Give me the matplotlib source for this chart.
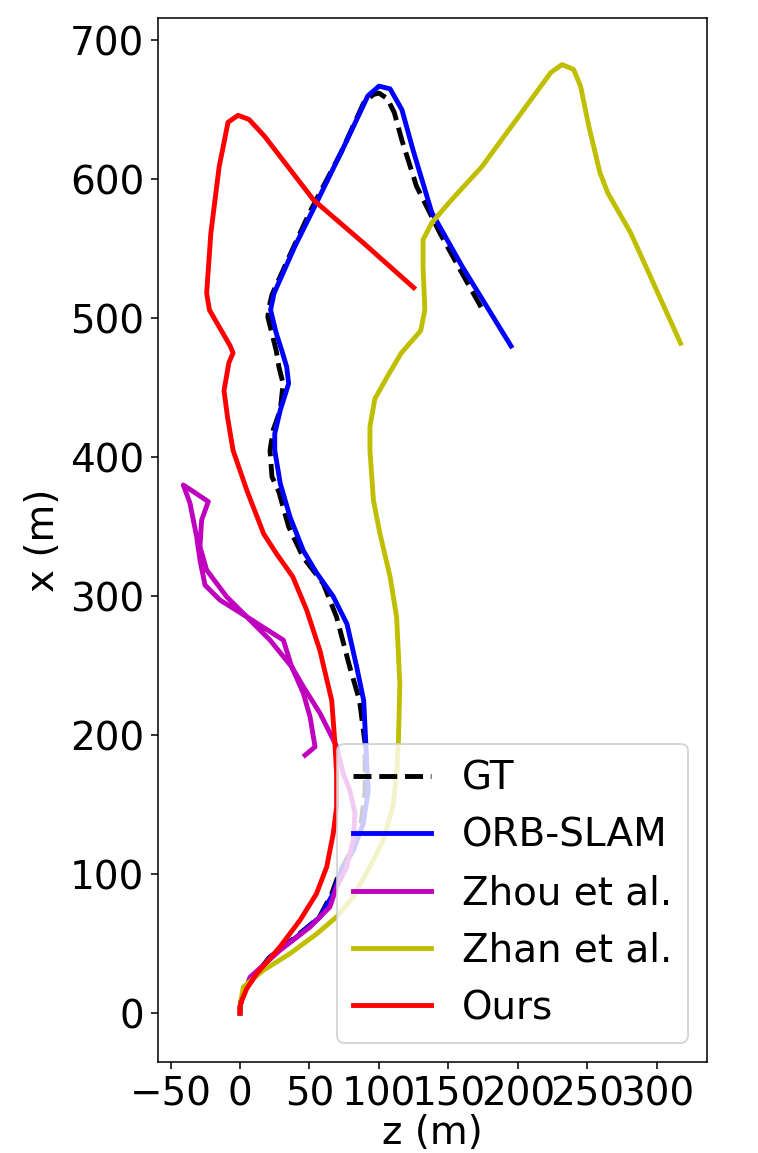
import matplotlib
matplotlib.use("Agg")
import matplotlib.pyplot as plt

# Trajektorije (z, x) u metrima, ocitane sa slike
gt_z = [0, 0.5, 3, 10, 21, 40, 57, 66, 71, 80, 87, 90, 90, 86, 79, 69.5, 60, 45.5, 35, 28,
        23, 21.6, 24, 29, 31, 28, 26, 20, 21.6, 23, 36.6, 50, 72.6, 89, 96, 100, 106, 111,
        116.5, 127, 144, 160, 174, 176]
gt_x = [0, 8, 16, 26, 40, 55, 69, 86, 100, 117, 136, 160, 194, 225, 249, 285, 309, 328, 350, 375,
        386, 405, 420, 434, 453, 465, 477, 501, 511, 517, 547, 576, 619, 655, 661, 662, 658, 648,
        628, 595, 561, 532, 507, 505]

orb_z = [0, 0.5, 3, 10, 21.6, 40.8, 57.6, 67, 72, 81.5, 88.7, 92.3, 91, 89, 84, 77, 67, 55, 45.5, 36,
         29, 25, 25, 29, 35, 33.6, 30, 26, 22, 24.5, 39.6, 56, 75, 92, 100, 108, 116.5, 124.5, 138, 160,
         195]
orb_x = [0, 8, 16, 26, 40.5, 55, 69.4, 86, 100.5, 117.3, 136.5, 160.5, 184.5, 225, 249, 280, 300, 317, 333, 357,
         381, 405, 417, 434, 453, 465, 477, 489.5, 506, 518, 552, 585, 624, 660, 667, 665, 650, 621, 576, 537,
         480]

zhou_z = [0, 0, 1.5, 7.2, 28.8, 50.4, 64.7, 69.5, 76.7, 81.5, 82.7, 79, 74.3, 69.5,
          57.6, 45.6, 37.2, 21.6, 4.8, -14.4, -25.2, -28.8, -31.2, -36, -40.8,
          -22.8, -27.6, -28.8, -24, -9.6, 4.8, 31.2, 37.2, 45.6, 50.4, 54, 46.8]
zhou_x = [0, 5, 10, 26, 45.4, 62.1, 76.6, 91, 105, 124.6, 143.8, 160.5, 172.5, 192,
          215.8, 234.9, 249.3, 268.5, 285.3, 297.3, 308.1, 326.1, 342.9, 367, 380.1,
          368.1, 354.9, 335.7, 318.9, 299.7, 285.3, 268.5, 249.3, 230.2, 213.3, 191.7, 185.7]

zhan_z = [0, 0, 2.4, 16.8, 36, 55, 69.5, 81.5, 93.5, 103, 110, 112.7, 114, 115, 112.7, 108, 100.7, 96,
          93.5, 93.5, 97, 106, 116, 130, 133, 131.7, 131.7, 138, 152, 174, 223.6, 231.7, 240, 245, 251,
          259, 264.7, 281, 317]
zhan_x = [0, 5, 19, 31, 43, 57, 69.4, 83.8, 105.4, 124.6, 148.6, 172.6, 196.5, 237, 285, 314, 345, 369,
          405, 422, 442, 458, 475, 491, 506, 537, 556.5, 568.7, 585, 609, 676.7, 682.5, 679, 667, 638,
          604.6, 590, 561.6, 482]

ours_z = [0, 0, 1.5, 5, 12, 28.8, 43.2, 55, 62.4, 67.1, 69.5, 69.5, 68.3, 66, 57.5, 48, 38, 26, 17, 5,
          -5, -9, -11.5, -8, -5, -7, -22, -24, -21, -15, -8.6, -1.4, 6.5, 17.6, 53, 89, 125]
ours_x = [0, 5, 10, 18, 28.5, 47.9, 67, 86, 105.4, 129.4, 148.6, 172.6, 194, 225, 261, 290, 314, 331, 345, 376,
          405, 429, 448, 468, 475, 480, 506, 518, 561, 609, 641, 646, 643, 631, 585, 554, 522]

plt.rcParams["font.size"] = 20
plt.rcParams["lines.solid_joinstyle"] = "round"

fig = plt.figure(figsize=(758 / 140, 1153 / 140), dpi=140)
ax = fig.add_axes([158 / 758, 91 / 1153, 549 / 758, 1044 / 1153])

lw = 2.5
ax.plot(gt_z, gt_x, "k--", lw=lw, label="GT")
ax.plot(orb_z, orb_x, "b-", lw=lw, label="ORB-SLAM")
ax.plot(zhou_z, zhou_x, "m-", lw=lw, label="Zhou et al.")
ax.plot(zhan_z, zhan_x, "y-", lw=lw, label="Zhan et al.")
ax.plot(ours_z, ours_x, "r-", lw=lw, label="Ours")

ax.set_xlim(-59, 336)
ax.set_ylim(-35, 716)
ax.set_xticks([-50, 0, 50, 100, 150, 200, 250, 300])
ax.set_yticks([0, 100, 200, 300, 400, 500, 600, 700])
ax.set_xlabel("z (m)", labelpad=0)
ax.set_ylabel("x (m)")
ax.legend(loc="lower right")

fig.savefig("out.png", dpi=140)
